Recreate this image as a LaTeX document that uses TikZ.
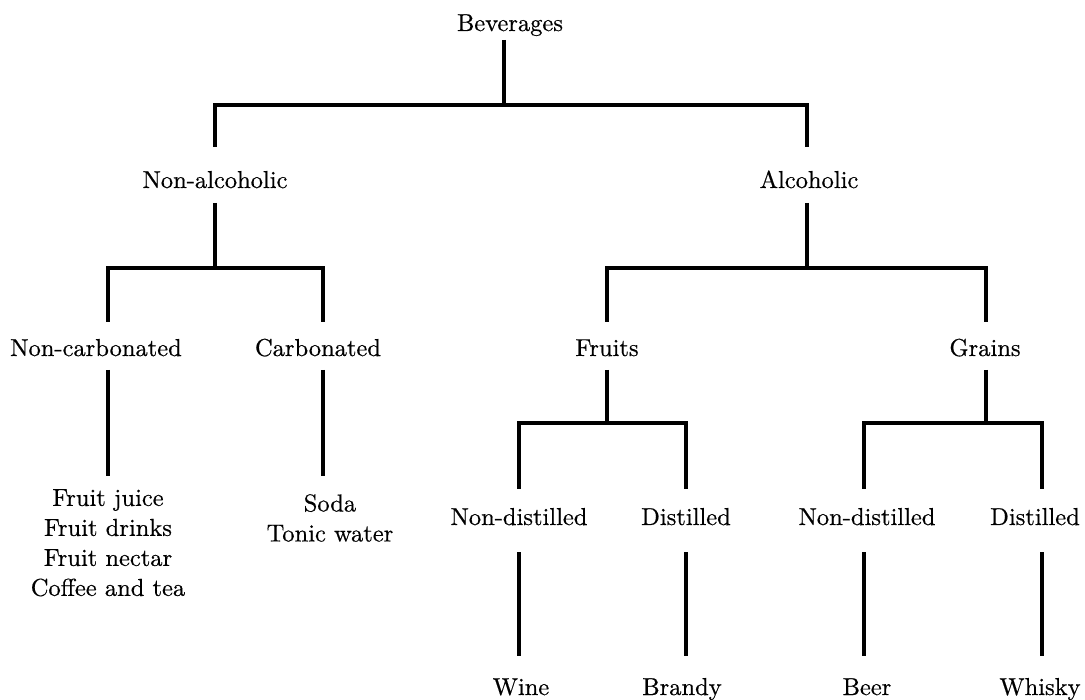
\documentclass[tikz,border=0pt]{standalone}
\usepackage{fontspec}
\setmainfont{lmroman10-regular.otf}[FakeBold=0.5]
\begin{document}
\begin{tikzpicture}[x=1pt,y=-1pt,
  lbl/.style={anchor=base,inner sep=0pt,font=\fontsize{24.5}{30}\selectfont},
  lst/.style={anchor=north,inner sep=0pt,align=center,font=\fontsize{24.5}{30}\selectfont},
  con/.style={line width=3.1pt,line join=miter}]
\useasboundingbox (0,0) rectangle (1085,700);
% labels
\node[lbl] (bev) at (510,31) {Beverages};
\node[lbl] (na) at (215,188) {Non-alcoholic};
\node[lbl] (al) at (809,188) {Alcoholic};
\node[lbl] (nc) at (96,356) {Non-carbonated};
\node[lbl] (cb) at (318,356) {Carbonated};
\node[lbl] (fr) at (607,356) {Fruits};
\node[lbl] (gr) at (985,356) {Grains};
\node[lbl] (nd1) at (519,525) {Non-distilled};
\node[lbl] (d1) at (686,525) {Distilled};
\node[lbl] (nd2) at (867,525) {Non-distilled};
\node[lbl] (d2) at (1035,525) {Distilled};
\node[lst] (ncl) at (108,489) {Fruit juice\\Fruit drinks\\Fruit nectar\\Coffee and tea};
\node[lst] (cbl) at (330,494) {Soda\\Tonic water};
\node[lbl] (wine) at (521,695) {Wine};
\node[lbl] (brandy) at (682,695) {Brandy};
\node[lbl] (beer) at (867,695) {Beer};
\node[lbl] (whisky) at (1040,695) {Whisky};
% connector coordinates
\coordinate (s0) at (504,40);  \coordinate (j0) at (504,105);
\coordinate (l0) at (215,147); \coordinate (r0) at (807,147);
\coordinate (s1) at (215,203); \coordinate (j1) at (215,268);
\coordinate (l1) at (108,322); \coordinate (r1) at (323,322);
\coordinate (s2) at (807,203); \coordinate (j2) at (807,268);
\coordinate (l2) at (607,322); \coordinate (r2) at (986,322);
\coordinate (s3) at (607,370); \coordinate (j3) at (607,423);
\coordinate (l3) at (519,489); \coordinate (r3) at (686,489);
\coordinate (s4) at (986,370); \coordinate (j4) at (986,423);
\coordinate (l4) at (864,489); \coordinate (r4) at (1042,489);
\coordinate (a1) at (108,370); \coordinate (b1) at (108,476);
\coordinate (a2) at (323,370); \coordinate (b2) at (323,476);
\coordinate (a3) at (519,552); \coordinate (b3) at (519,656);
\coordinate (a4) at (686,552); \coordinate (b4) at (686,656);
\coordinate (a5) at (864,552); \coordinate (b5) at (864,656);
\coordinate (a6) at (1042,552); \coordinate (b6) at (1042,656);
% forks
\foreach \i in {0,...,4}{
  \draw[con] (s\i) -- (j\i);
  \draw[con] (l\i) |- (j\i) -| (r\i);
}
% single stems
\foreach \i in {1,...,6}{
  \draw[con] (a\i) -- (b\i);
}
\end{tikzpicture}
\end{document}
